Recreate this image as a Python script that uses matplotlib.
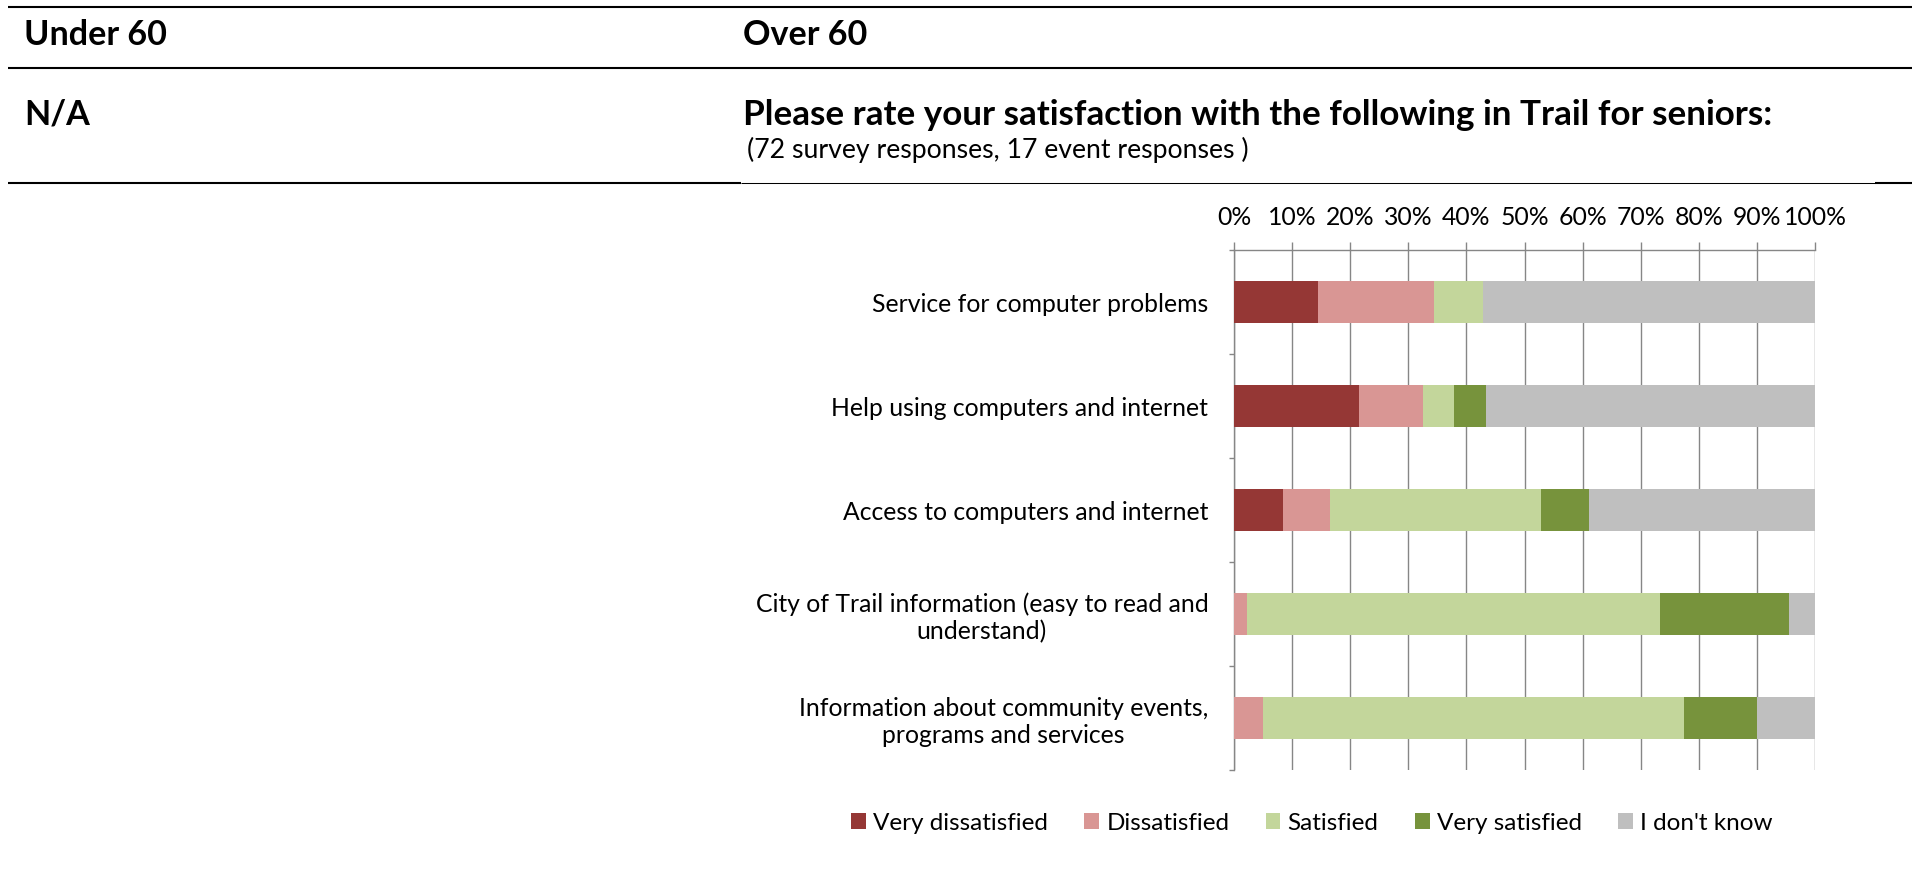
import matplotlib
matplotlib.use("Agg")
import matplotlib.pyplot as plt
import numpy as np
from matplotlib.lines import Line2D

plt.rcParams["font.family"] = ["Lato", "DejaVu Sans"]

W, H = 1920, 896

categories = [
    "Service for computer problems",
    "Help using computers and internet",
    "Access to computers and internet",
    "City of Trail information (easy to read and\nunderstand)",
    "Information about community events,\nprograms and services",
]
series_names = ["Very dissatisfied", "Dissatisfied", "Satisfied", "Very satisfied", "I don't know"]
very_dissatisfied = [14.4, 21.6, 8.4, 0.0, 0.0]
dissatisfied = [20.0, 10.9, 8.2, 2.3, 5.0]
satisfied = [8.5, 5.4, 36.3, 71.1, 72.5]
very_satisfied = [0.0, 5.4, 8.2, 22.2, 12.5]
dont_know = [57.1, 56.7, 38.9, 4.4, 10.0]
series_colors = ["#953735", "#D99694", "#C3D69B", "#77933C", "#BFBFBF"]
x_ticks = list(range(0, 101, 10))
x_tick_labels = [f"{t}%" for t in x_ticks]

GRID = "#868686"


def fx(px):
    return px / W


def fy(py):
    return 1 - py / H


fig = plt.figure(figsize=(W / 100, H / 100), dpi=100)


def hline(y, x0, x1, lw):
    fig.add_artist(Line2D([fx(x0), fx(x1)], [fy(y), fy(y)], color="black", lw=lw,
                          solid_capstyle="butt", transform=fig.transFigure))


# table-like header rules
hline(7.5, 8, 1912, 1.5)
hline(68.5, 8, 1912, 1.5)
hline(183, 8, 741, 1.5)
hline(183, 741, 1875, 0.75)
hline(183, 1875, 1912, 1.5)

fig.text(fx(24), fy(45), "Under 60", fontsize=24.6, fontweight="bold", va="baseline")
fig.text(fx(743), fy(45), "Over 60", fontsize=24.6, fontweight="bold", va="baseline")
fig.text(fx(24), fy(125), "N/A", fontsize=24.6, fontweight="bold", va="baseline")
fig.text(fx(743), fy(125), "Please rate your satisfaction with the following in Trail for seniors:",
         fontsize=25.2, fontweight="bold", va="baseline")
fig.text(fx(747), fy(158), "(72 survey responses, 17 event responses )", fontsize=19.2, va="baseline")

# chart
ax = fig.add_axes([fx(1234), fy(770), fx(1815) - fx(1234), fy(250) - fy(770)])
data = [very_dissatisfied, dissatisfied, satisfied, very_satisfied, dont_know]
y = np.arange(len(categories))
left = np.zeros(len(categories))
for name, vals, col in zip(series_names, data, series_colors):
    ax.barh(y, vals, left=left, height=0.4, color=col, label=name, zorder=3)
    left += np.array(vals)

ax.set_xlim(0, 100)
ax.set_ylim(len(categories) - 0.5, -0.5)
ax.xaxis.tick_top()
ax.set_xticks(x_ticks)
ax.set_xticklabels(x_tick_labels)
ax.tick_params(axis="x", direction="out", length=5.8, width=1, color=GRID, pad=9, labelsize=17.8)
ax.xaxis.grid(True, color=GRID, lw=1, zorder=0)
ax.set_axisbelow(True)

ax.set_yticks(y)
ax.set_yticklabels(categories, multialignment="center")
ax.set_yticks(np.arange(-0.5, len(categories)), minor=True)
ax.tick_params(axis="y", which="major", length=0, pad=18.5, labelsize=17.8)
ax.tick_params(axis="y", which="minor", direction="out", length=3.6, width=1, color=GRID)

for s in ["right", "bottom"]:
    ax.spines[s].set_visible(False)
for s in ["top", "left"]:
    ax.spines[s].set_color(GRID)
    ax.spines[s].set_linewidth(1)

fig.legend(loc="center", bbox_to_anchor=(fx(1312), fy(823)), ncol=5, frameon=False,
           fontsize=17.5, handlelength=0.6, handleheight=0.6, handletextpad=0.3,
           columnspacing=1.5)

fig.savefig("out.png", dpi=100)
